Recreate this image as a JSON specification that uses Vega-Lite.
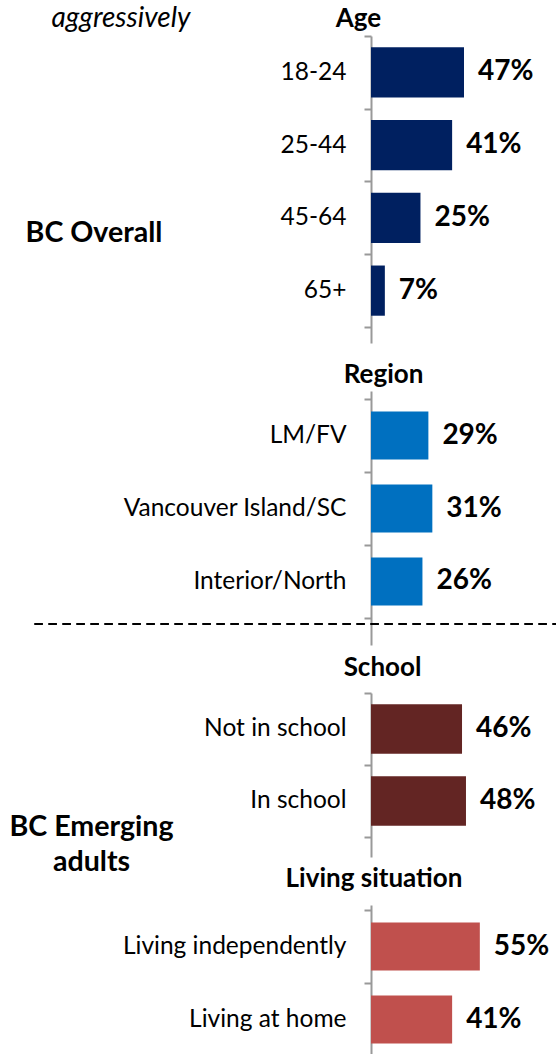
{
  "$schema": "https://vega.github.io/schema/vega-lite/v6.json",
  "padding": {"left": 8, "top": 4, "right": 0, "bottom": 0},
  "background": "white",
  "spacing": 48,
  "bounds": "flush",
  "config": {
    "view": {"stroke": null},
    "font": "Lato",
    "axisY": {
      "domainColor": "#999999", "domainWidth": 2,
      "tickColor": "#999999", "tickWidth": 2, "tickSize": 7,
      "labelFont": "Lato", "labelFontSize": 24.5, "labelColor": "#000000", "labelPadding": 18, "labelLimit": 400,
      "titleFont": "Lato", "titleFontWeight": "bold", "titleFontSize": 28.6, "titleColor": "#000000",
      "titleAngle": 0, "titleAlign": "center", "titleBaseline": "alphabetic",
      "grid": false
    },
    "axisX": {
      "labels": false, "ticks": false, "domain": false, "grid": false,
      "titleFont": "Lato", "titleFontSize": 26, "titleFontWeight": "bold", "titleColor": "#000000",
      "titleAlign": "center", "titleBaseline": "alphabetic"
    }
  },
  "vconcat": [
    {
      "width": 186, "height": 307,
      "data": {"values": [
        {"group": "18-24", "pct": 0.47},
        {"group": "25-44", "pct": 0.41},
        {"group": "45-64", "pct": 0.25},
        {"group": "65+", "pct": 0.07}
      ]},
      "encoding": {
        "y": {"field": "group", "type": "nominal", "sort": null,
              "scale": {"paddingInner": 0, "paddingOuter": 0.11, "align": 0},
              "axis": {"title": "BC Overall", "titleX": -277.5, "titleY": 205, "tickBand": "extent"}}
      },
      "layer": [
        {"mark": {"type": "bar", "color": "#002060", "height": {"band": 0.69}},
         "encoding": {"x": {"field": "pct", "type": "quantitative", "scale": {"domain": [0, 0.94], "nice": false},
                            "axis": {"orient": "top", "title": "Age", "titleX": -13, "titleY": -10}}}},
        {"mark": {"type": "text", "align": "left", "baseline": "middle", "dx": 14, "fontSize": 28, "fontWeight": "bold", "font": "Lato", "color": "#000000"},
         "encoding": {"text": {"field": "pct", "format": ".0%"},
                      "x": {"field": "pct", "type": "quantitative", "scale": {"domain": [0, 0.94], "nice": false},
                            "axis": {"orient": "bottom", "title": "aggressively", "titleX": -320, "titleY": -317, "titleAlign": "left", "titleFontStyle": "italic", "titleFontWeight": "normal", "titleFontSize": 28}}}}
      ],
      "resolve": {"axis": {"x": "independent"}}
    },
    {
      "width": 186, "height": 254,
      "data": {"values": [
        {"group": "LM/FV", "pct": 0.29},
        {"group": "Vancouver Island/SC", "pct": 0.31},
        {"group": "Interior/North", "pct": 0.26}
      ]},
      "encoding": {
        "y": {"field": "group", "type": "nominal", "sort": null,
              "scale": {"paddingInner": 0, "paddingOuter": 0.24, "align": 0.229},
              "axis": {"title": null, "tickBand": "extent"}}
      },
      "layer": [
        {"mark": {"type": "bar", "color": "#0070C0", "height": {"band": 0.66}},
         "encoding": {"x": {"field": "pct", "type": "quantitative", "scale": {"domain": [0, 0.94], "nice": false},
                            "axis": {"orient": "top", "title": "Region", "titleX": 12, "titleY": -9}}}},
        {"mark": {"type": "text", "align": "left", "baseline": "middle", "dx": 14, "fontSize": 28, "fontWeight": "bold", "font": "Lato", "color": "#000000"},
         "encoding": {"text": {"field": "pct", "format": ".0%"},
                      "x": {"field": "pct", "type": "quantitative", "scale": {"domain": [0, 0.94], "nice": false}}}},
        {"mark": {"type": "rule", "strokeDash": [8, 6], "strokeWidth": 2, "color": "#000000"},
         "encoding": {"x": {"datum": -1.7}, "x2": {"datum": 0.94},
                      "y": {"datum": "Interior/North"}, "yOffset": {"value": 79}}}
      ]
    },
    {
      "width": 186, "height": 164,
      "data": {"values": [
        {"group": "Not in school", "pct": 0.46},
        {"group": "In school", "pct": 0.48}
      ]},
      "encoding": {
        "y": {"field": "group", "type": "nominal", "sort": null,
              "scale": {"paddingInner": 0, "paddingOuter": 0.139, "align": 0},
              "axis": {"title": ["BC Emerging", "adults"], "titleX": -280, "titleY": 142, "titleLineHeight": 35, "tickBand": "extent"}}
      },
      "layer": [
        {"mark": {"type": "bar", "color": "#632523", "height": {"band": 0.69}},
         "encoding": {"x": {"field": "pct", "type": "quantitative", "scale": {"domain": [0, 0.94], "nice": false},
                            "axis": {"orient": "top", "title": "School", "titleX": 11, "titleY": -18}}}},
        {"mark": {"type": "text", "align": "left", "baseline": "middle", "dx": 14, "fontSize": 28, "fontWeight": "bold", "font": "Lato", "color": "#000000"},
         "encoding": {"text": {"field": "pct", "format": ".0%"},
                      "x": {"field": "pct", "type": "quantitative", "scale": {"domain": [0, 0.94], "nice": false}}}}
      ]
    },
    {
      "width": 186, "height": 159,
      "data": {"values": [
        {"group": "Living independently", "pct": 0.55},
        {"group": "Living at home", "pct": 0.41}
      ]},
      "encoding": {
        "y": {"field": "group", "type": "nominal", "sort": null,
              "scale": {"paddingInner": 0, "paddingOuter": 0.089, "align": 0.385},
              "axis": {"title": null, "tickBand": "extent"}}
      },
      "layer": [
        {"mark": {"type": "bar", "color": "#C0504D", "height": {"band": 0.66}},
         "encoding": {"x": {"field": "pct", "type": "quantitative", "scale": {"domain": [0, 0.94], "nice": false},
                            "axis": {"orient": "top", "title": "Living situation", "titleX": 2.5, "titleY": -19}}}},
        {"mark": {"type": "text", "align": "left", "baseline": "middle", "dx": 14, "fontSize": 28, "fontWeight": "bold", "font": "Lato", "color": "#000000"},
         "encoding": {"text": {"field": "pct", "format": ".0%"},
                      "x": {"field": "pct", "type": "quantitative", "scale": {"domain": [0, 0.94], "nice": false}}}}
      ]
    }
  ]
}
